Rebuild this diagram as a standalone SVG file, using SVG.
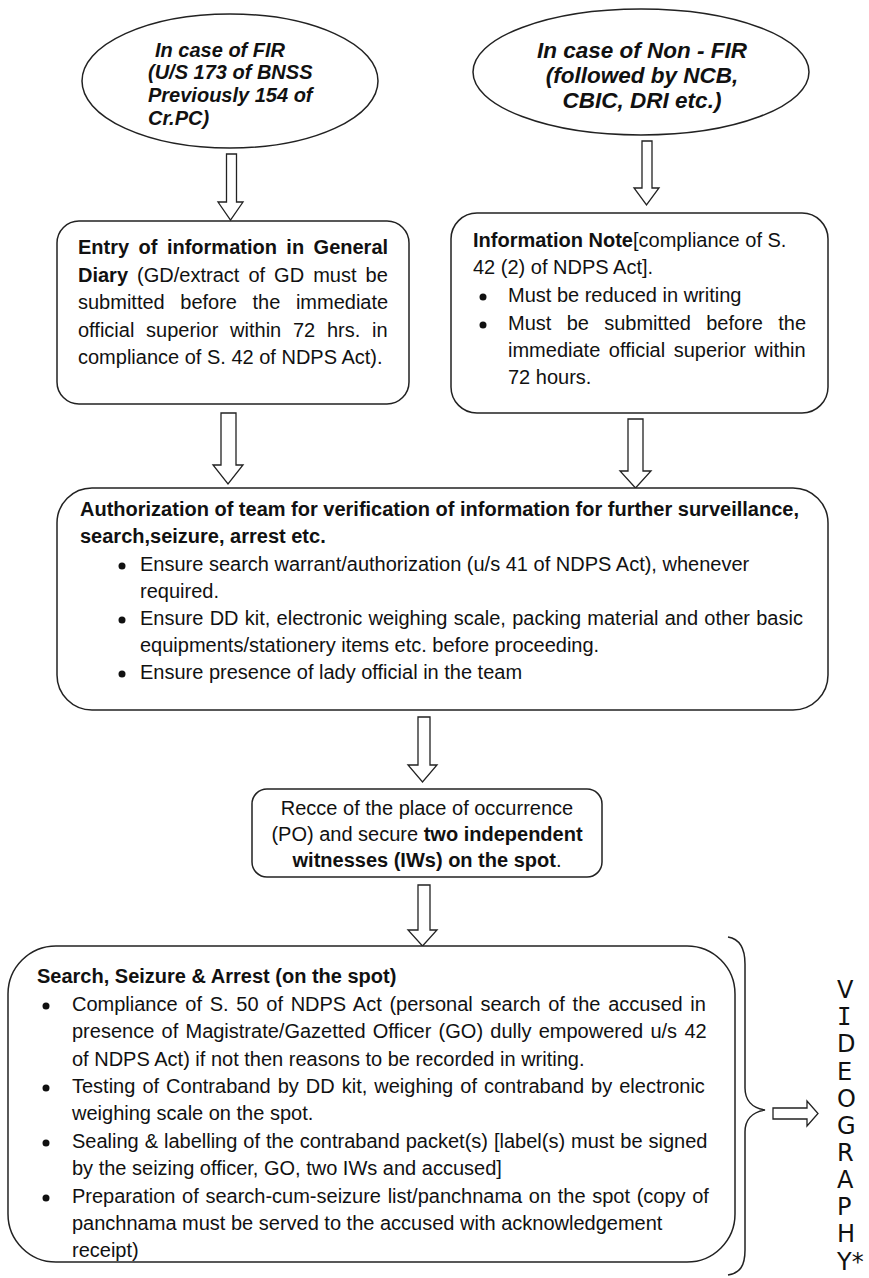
<svg xmlns="http://www.w3.org/2000/svg" width="869" height="1278" viewBox="0 0 869 1278">
<style>
.shape{fill:#fff;stroke:#222;stroke-width:1.5}
.arrow{fill:#fff;stroke:#222;stroke-width:1.3;stroke-linejoin:miter}
.brace{fill:none;stroke:#222;stroke-width:1.5}
text{font-family:"Liberation Sans",Arial,sans-serif;font-size:20px;fill:#111}
.bi{font-weight:bold;font-style:italic}
.big{font-size:22.5px}
.b{font-weight:bold}
.dot{fill:#111}
.vid{font-family:"DejaVu Sans",sans-serif;font-size:24px}
.vidi{font-family:"DejaVu Sans Mono",monospace;font-size:24px}
</style>
<rect width="869" height="1278" fill="#fff"/>

<g id="connectors">
<polygon class="arrow" points="226.5,154 236.5,154 236.5,202 243,202 230.5,220 218,202 226.5,202"/>
<polygon class="arrow" points="642,141 652,141 652,188 659,188 646.5,205 634,188 642,188"/>
<polygon class="arrow" points="221,413 236,413 236,465 243,465 228,484 213,465 221,465"/>
<polygon class="arrow" points="628,419 643,419 643,471 651,471 635.5,488 620,471 628,471"/>
<polygon class="arrow" points="418,717 430,717 430,765 437,765 422.5,782 408,765 418,765"/>
<polygon class="arrow" points="418,885 430,885 430,930 437,930 422.5,946 408,930 418,930"/>
<polygon class="arrow" points="773,1108 807,1108 807,1101 818,1113.5 807,1126 807,1119 773,1119"/>
<path class="brace" d="M728,937 C740,939 745,948 745,964 L745,1088 C745,1100 752,1108 765,1110 C752,1112 745,1120 745,1132 L745,1250 C745,1266 740,1273 728,1275"/>
</g>

<g id="node-fir">
<ellipse class="shape" cx="230" cy="81" rx="148" ry="67"/>
<text class="bi" x="155" y="57">In case of FIR</text>
<text class="bi" x="148" y="79">(U/S 173 of BNSS</text>
<text class="bi" x="148" y="102">Previously 154 of</text>
<text class="bi" x="148" y="125">Cr.PC)</text>
</g>

<g id="node-nonfir">
<ellipse class="shape" cx="641" cy="72" rx="168" ry="63"/>
<text class="bi big" x="642" y="58" text-anchor="middle">In case of Non - FIR</text>
<text class="bi big" x="642" y="83" text-anchor="middle">(followed by NCB,</text>
<text class="bi big" x="642" y="108" text-anchor="middle">CBIC, DRI etc.)</text>
</g>

<g id="node-gd">
<rect class="shape" x="57" y="221" width="352" height="183" rx="22" ry="22"/>
<text class="b" x="78" y="254" word-spacing="3.9">Entry of information in General</text>
<text x="78" y="281.5" word-spacing="3.5"><tspan class="b">Diary</tspan> (GD/extract of GD must be</text>
<text x="78" y="309" word-spacing="10">submitted before the immediate</text>
<text x="78" y="336.5" word-spacing="6.2">official superior within 72 hrs. in</text>
<text x="78" y="364">compliance of S. 42 of NDPS Act).</text>
</g>

<g id="node-infonote">
<rect class="shape" x="451" y="213" width="377" height="200" rx="26" ry="26"/>
<text x="473" y="247"><tspan class="b">Information Note</tspan>[compliance of S.</text>
<text x="473" y="274">42 (2) of NDPS Act].</text>
<circle class="dot" cx="483" cy="297" r="3.5"/>
<text x="508" y="302">Must be reduced in writing</text>
<circle class="dot" cx="483" cy="325" r="3.5"/>
<text x="508" y="330" word-spacing="9.75">Must be submitted before the</text>
<text x="508" y="357" word-spacing="3">immediate official superior within</text>
<text x="508" y="384">72 hours.</text>
</g>

<g id="node-authorization">
<rect class="shape" x="57" y="488" width="771" height="222" rx="35" ry="35"/>
<text class="b" x="80" y="516">Authorization of team for verification of information for further surveillance,</text>
<text class="b" x="80" y="543">search,seizure, arrest etc.</text>
<circle class="dot" cx="122" cy="566" r="3.5"/>
<text x="140" y="571">Ensure search warrant/authorization (u/s 41 of NDPS Act), whenever</text>
<text x="140" y="598">required.</text>
<circle class="dot" cx="122" cy="620" r="3.5"/>
<text x="140" y="625" word-spacing="0.7">Ensure DD kit, electronic weighing scale, packing material and other basic</text>
<text x="140" y="652">equipments/stationery items etc. before proceeding.</text>
<circle class="dot" cx="122" cy="674" r="3.5"/>
<text x="140" y="679">Ensure presence of lady official in the team</text>
</g>

<g id="node-recce">
<rect class="shape" x="252" y="789" width="350" height="88" rx="15" ry="15"/>
<text x="427" y="815" text-anchor="middle">Recce of the place of occurrence</text>
<text x="427" y="841" text-anchor="middle">(PO) and secure <tspan class="b">two independent</tspan></text>
<text x="427" y="867" text-anchor="middle"><tspan class="b">witnesses (IWs) on the spot</tspan>.</text>
</g>

<g id="node-search">
<rect class="shape" x="8" y="946" width="727" height="316" rx="48" ry="48"/>
<text class="b" x="37" y="983">Search, Seizure &amp; Arrest (on the spot)</text>
<circle class="dot" cx="46" cy="1006" r="3.5"/>
<text x="72" y="1011" word-spacing="2.15">Compliance of S. 50 of NDPS Act (personal search of the accused in</text>
<text x="72" y="1038" word-spacing="1.7">presence of Magistrate/Gazetted Officer (GO) dully empowered u/s 42</text>
<text x="72" y="1066">of NDPS Act) if not then reasons to be recorded in writing.</text>
<circle class="dot" cx="46" cy="1088" r="3.5"/>
<text x="72" y="1093" word-spacing="1.47">Testing of Contraband by DD kit, weighing of contraband by electronic</text>
<text x="72" y="1120">weighing scale on the spot.</text>
<circle class="dot" cx="46" cy="1143" r="3.5"/>
<text x="72" y="1148" word-spacing="0.4">Sealing &amp; labelling of the contraband packet(s) [label(s) must be signed</text>
<text x="72" y="1175">by the seizing officer, GO, two IWs and accused]</text>
<circle class="dot" cx="46" cy="1198" r="3.5"/>
<text x="72" y="1203" word-spacing="1.1">Preparation of search-cum-seizure list/panchnama on the spot (copy of</text>
<text x="72" y="1230">panchnama must be served to the accused with acknowledgement</text>
<text x="72" y="1257">receipt)</text>
</g>

<g id="node-videography">
<text class="vid" x="837" y="998">V</text>
<text class="vidi" x="837" y="1025">I</text>
<text class="vid" x="837" y="1052">D</text>
<text class="vid" x="837" y="1080">E</text>
<text class="vid" x="837" y="1107">O</text>
<text class="vid" x="837" y="1134">G</text>
<text class="vid" x="837" y="1161">R</text>
<text class="vid" x="837" y="1188">A</text>
<text class="vid" x="837" y="1215">P</text>
<text class="vid" x="837" y="1242">H</text>
<text class="vid" x="837" y="1270">Y*</text>
</g>
</svg>
